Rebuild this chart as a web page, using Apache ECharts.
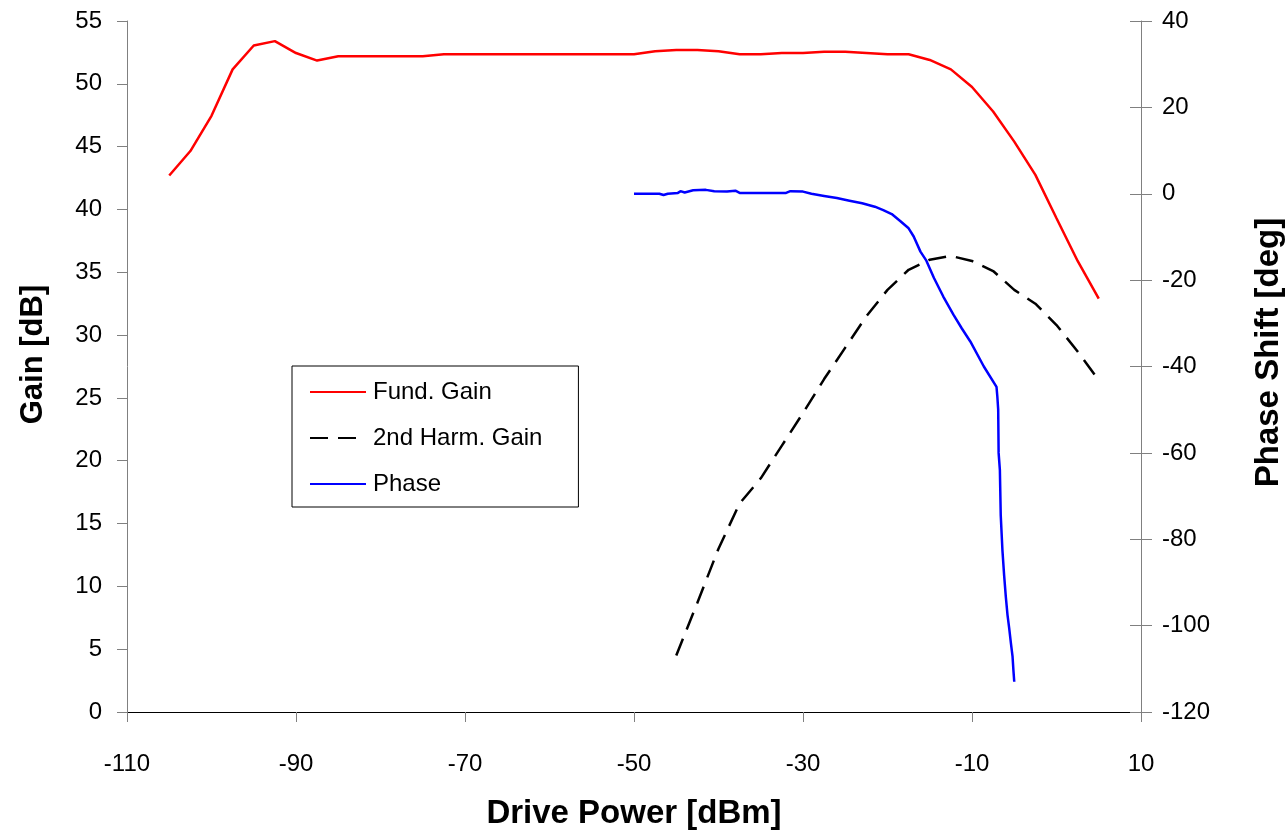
<!DOCTYPE html>
<html>
<head>
<meta charset="utf-8">
<script src="https://cdn.jsdelivr.net/npm/echarts@6/dist/echarts.min.js"></script>
<style>
html,body{margin:0;padding:0;background:#fff;}
#chart{width:1286px;height:837px;}
</style>
</head>
<body>
<div id="chart"></div>
<script>
// Fund. Gain (dB) vs drive power (dBm)
var fundX = [-105,-102.5,-100,-97.5,-95,-92.5,-90,-87.5,-85,-82.5,-80,-77.5,-75,-72.5,-70,-67.5,-65,-62.5,-60,-57.5,-55,-52.5,-50,-47.5,-45,-42.5,-40,-37.5,-35,-32.5,-30,-27.5,-25,-22.5,-20,-17.5,-15,-12.5,-10,-7.5,-5,-2.5,0,2.5,5];
var fundGain = [42.7,44.65,47.45,51.15,53.05,53.4,52.45,51.85,52.2,52.2,52.2,52.2,52.2,52.35,52.35,52.35,52.35,52.35,52.35,52.35,52.35,52.35,52.35,52.6,52.7,52.7,52.6,52.35,52.35,52.45,52.45,52.55,52.55,52.45,52.35,52.35,51.9,51.15,49.75,47.8,45.4,42.75,39.3,35.9,32.9];

// 2nd Harm. Gain (dB)
var harmX = [-45,-42.5,-40,-37.5,-35,-32.5,-30,-27.5,-25,-22.5,-20,-17.5,-15,-12.5,-10,-7.5,-5,-2.5,0,2.5,5];
var harmGain = [4.5,8.7,13.0,16.6,18.6,21.2,23.8,26.5,29.0,31.5,33.6,35.2,36.0,36.3,35.9,35.1,33.6,32.5,30.8,28.7,26.4];

// Phase shift (deg)
var phaseX = [-50,-47,-46.5,-46,-44.8,-44.5,-44,-43,-41.5,-40.5,-39,-38,-37.5,-35,-32,-31.5,-30,-29,-27.5,-26,-24.5,-23,-21.5,-20.5,-19.5,-18.5,-17.5,-16.9,-16.1,-15.4,-14.5,-13.4,-12.2,-11.2,-10.2,-8.6,-7.1,-7.0,-6.9,-6.85,-6.7,-6.6,-6.4,-6.2,-6.0,-5.8,-5.6,-5.4,-5.2,-5.1,-5.0];
var phaseDeg = [0,0,-0.3,0,0.2,0.6,0.3,0.8,0.9,0.6,0.5,0.7,0.2,0.2,0.2,0.6,0.5,0,-0.5,-1.0,-1.6,-2.2,-3.0,-3.8,-4.7,-6.3,-8.0,-9.9,-13.4,-15.5,-19.5,-23.8,-28.0,-31.2,-34.2,-40.0,-44.7,-47,-50,-60,-64,-74.4,-82.5,-88.3,-93.3,-97.5,-100.6,-104,-107.2,-110.3,-113];

var xTicks = [-110,-90,-70,-50,-30,-10,10];
var gainTicks = [0,5,10,15,20,25,30,35,40,45,50,55];
var phaseTicks = [-120,-100,-80,-60,-40,-20,0,20,40];

function pairs(xs, ys){ return xs.map(function(x,i){ return [x, ys[i]]; }); }

var FONT = "'Liberation Sans', Arial, sans-serif";
var chart = echarts.init(document.getElementById('chart'), null, {renderer:'canvas'});
var yAxisCommon = {
  type: 'value',
  splitLine: {show:false},
  axisLine: {show:true, onZero:false, lineStyle:{color:'#808080', width:1}},
  axisTick: {show:true, length:10, lineStyle:{color:'#808080'}},
  axisLabel: {fontSize:24, color:'#000', fontFamily:FONT}
};
chart.setOption({
  animation: false,
  backgroundColor: '#fff',
  grid: {left:127, right:145, top:21, bottom:125, containLabel:false, outerBoundsMode:'none'},
  legend: {
    orient: 'vertical',
    left: 292, top: 366,
    padding: [12, 36, 9, 17],
    itemWidth: 56, itemHeight: 14, itemGap: 18,
    borderColor: '#000', borderWidth: 1, backgroundColor: '#fff',
    itemStyle: {opacity: 0},
    textStyle: {fontSize:24, color:'#000', fontFamily:FONT, lineHeight:28, padding:[0,0,0,2]},
    data: ['Fund. Gain', '2nd Harm. Gain', 'Phase']
  },
  xAxis: {
    type: 'value', min: xTicks[0], max: xTicks[xTicks.length-1], interval: 20,
    splitLine: {show:false},
    axisLine: {show:true, onZero:false, lineStyle:{color:'#000', width:1}},
    axisTick: {show:true, length:10, lineStyle:{color:'#808080'}},
    axisLabel: {fontSize:24, color:'#000', fontFamily:FONT, margin:40},
    name: 'Drive Power [dBm]', nameLocation: 'middle', nameGap: 85,
    nameTextStyle: {fontSize:33, fontWeight:'bold', color:'#000', fontFamily:FONT}
  },
  yAxis: [
    Object.assign({}, yAxisCommon, {
      min: gainTicks[0], max: gainTicks[gainTicks.length-1], interval: 5, position:'left',
      axisLabel: Object.assign({}, yAxisCommon.axisLabel, {margin:25}),
      name: 'Gain [dB]', nameLocation:'middle', nameGap: 78, nameRotate: 90,
      nameTextStyle: {fontSize:31, fontWeight:'bold', color:'#000', fontFamily:FONT, padding:[0,0,0,24]}
    }),
    Object.assign({}, yAxisCommon, {
      min: phaseTicks[0], max: phaseTicks[phaseTicks.length-1], interval: 20, position:'right',
      axisTick: {show:true, length:11, lineStyle:{color:'#808080'}},
      axisLabel: Object.assign({}, yAxisCommon.axisLabel, {margin:21}),
      name: 'Phase Shift [deg]', nameLocation:'middle', nameGap: 111, nameRotate: 90,
      nameTextStyle: {fontSize:33, fontWeight:'bold', color:'#000', fontFamily:FONT, padding:[0,0,0,28]}
    }),
    {
      type:'value', min: phaseTicks[0], max: phaseTicks[phaseTicks.length-1], interval: 20, position:'right',
      splitLine:{show:false}, axisLine:{show:false, onZero:false}, axisLabel:{show:false},
      axisTick:{show:true, inside:true, length:11, lineStyle:{color:'#808080'}}
    }
  ],
  series: [
    {
      name: 'Fund. Gain', type: 'line', yAxisIndex: 0, data: pairs(fundX, fundGain),
      showSymbol: false, symbol: 'none', smooth: false,
      lineStyle: {color:'#ff0000', width:2.5}, itemStyle:{color:'#ff0000'}
    },
    {
      name: '2nd Harm. Gain', type: 'line', yAxisIndex: 0, data: pairs(harmX, harmGain),
      showSymbol: false, symbol: 'none',
      lineStyle: {color:'#000', width:2.5, type:[18,10]}, itemStyle:{color:'#000'}
    },
    {
      name: 'Phase', type: 'line', yAxisIndex: 1, data: pairs(phaseX, phaseDeg),
      showSymbol: false, symbol: 'none',
      lineStyle: {color:'#0000ff', width:2.5}, itemStyle:{color:'#0000ff'}
    }
  ]
});
</script>
</body>
</html>
